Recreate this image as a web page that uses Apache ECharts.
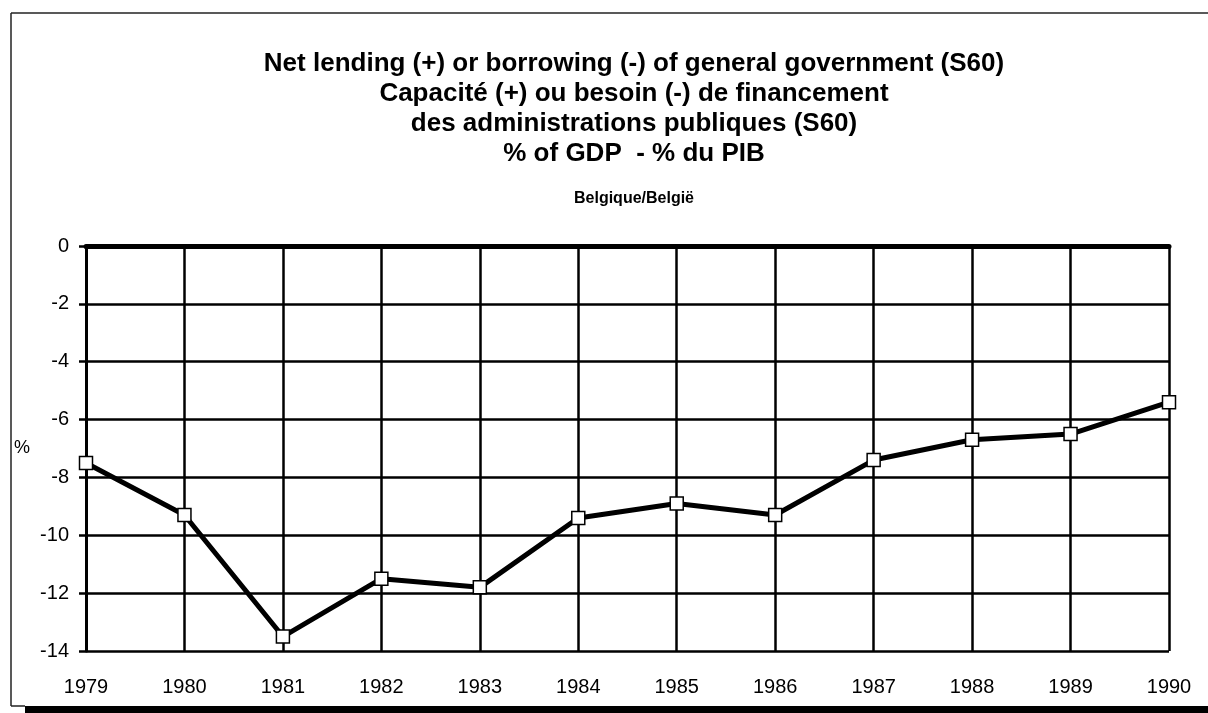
<!DOCTYPE html>
<html>
<head>
<meta charset="utf-8">
<script src="https://cdn.jsdelivr.net/npm/echarts@6/dist/echarts.min.js"></script>
<style>
html,body{margin:0;padding:0;background:#fff;}
#c{width:1208px;height:713px;}
</style>
</head>
<body>
<div id="c"></div>
<script>
const titleLines = [
  'Net lending (+) or borrowing (-) of general government (S60)',
  'Capacité (+) ou besoin (-) de financement',
  'des administrations publiques (S60)',
  '% of GDP  - % du PIB'
];
const subtitle = 'Belgique/België';
const yAxisName = '%';
const years = ['1979','1980','1981','1982','1983','1984','1985','1986','1987','1988','1989','1990'];
const netLending = [-7.5, -9.3, -13.5, -11.5, -11.8, -9.4, -8.9, -9.3, -7.4, -6.7, -6.5, -5.4];
const yMin = -14, yMax = 0, yStep = 2;

const FONT = '"Liberation Sans", Arial, Helvetica, sans-serif';
const chart = echarts.init(document.getElementById('c'), null, {renderer:'canvas'});
chart.setOption({
  backgroundColor: '#fff',
  animation: false,
  title: [
    {
      text: titleLines.join('\n'),
      left: 629, top: 44, textAlign: 'center',
      textStyle: {fontFamily: FONT, fontSize: 26, fontWeight: 'bold', color: '#000', lineHeight: 30}
    },
    {
      text: subtitle,
      left: 629, top: 186, textAlign: 'center',
      textStyle: {fontFamily: FONT, fontSize: 16, fontWeight: 'bold', color: '#000'}
    }
  ],
  graphic: [
    {type:'line', shape:{x1:11, y1:13, x2:1208, y2:13}, style:{stroke:'#222', lineWidth:1.5}},
    {type:'line', shape:{x1:11, y1:13, x2:11, y2:706}, style:{stroke:'#222', lineWidth:1.5}},
    {type:'line', shape:{x1:11, y1:706, x2:25, y2:706}, style:{stroke:'#222', lineWidth:1.5}},
    {type:'rect', shape:{x:25, y:706, width:1183, height:7}, style:{fill:'#000'}}
  ],
  grid: {left: 86, right: 39, top: 246, bottom: 62, containLabel: false},
  xAxis: [
    {
      type: 'category', data: years, boundaryGap: false, position: 'bottom',
      axisLine: {show: true, lineStyle: {color: '#000', width: 3}},
      axisTick: {show: false},
      axisLabel: {color: '#000', fontFamily: FONT, fontSize: 20, margin: 26},
      splitLine: {show: true, lineStyle: {color: '#000', width: 2.5}}
    },
    {
      type: 'category', data: years, boundaryGap: false, position: 'top',
      axisLine: {show: true, lineStyle: {color: '#000', width: 5}},
      axisTick: {show: false}, axisLabel: {show: false}, splitLine: {show: false}
    }
  ],
  yAxis: {
    type: 'value', min: yMin, max: yMax, interval: yStep,
    name: yAxisName, nameLocation: 'middle', nameRotate: 0, nameGap: 56,
    nameTextStyle: {color: '#000', fontFamily: FONT, fontSize: 18},
    axisLine: {show: true, lineStyle: {color: '#000', width: 3}},
    axisTick: {show: true, length: 7, lineStyle: {color: '#000', width: 2.5}},
    axisLabel: {color: '#000', fontFamily: FONT, fontSize: 20, margin: 17},
    splitLine: {show: true, lineStyle: {color: '#000', width: 2.5}}
  },
  series: [{
    type: 'line', data: netLending,
    symbol: 'rect', symbolSize: 13, showSymbol: true,
    lineStyle: {color: '#000', width: 5},
    itemStyle: {color: '#fff', borderColor: '#000', borderWidth: 1.5},
    z: 5
  }]
});
</script>
</body>
</html>
